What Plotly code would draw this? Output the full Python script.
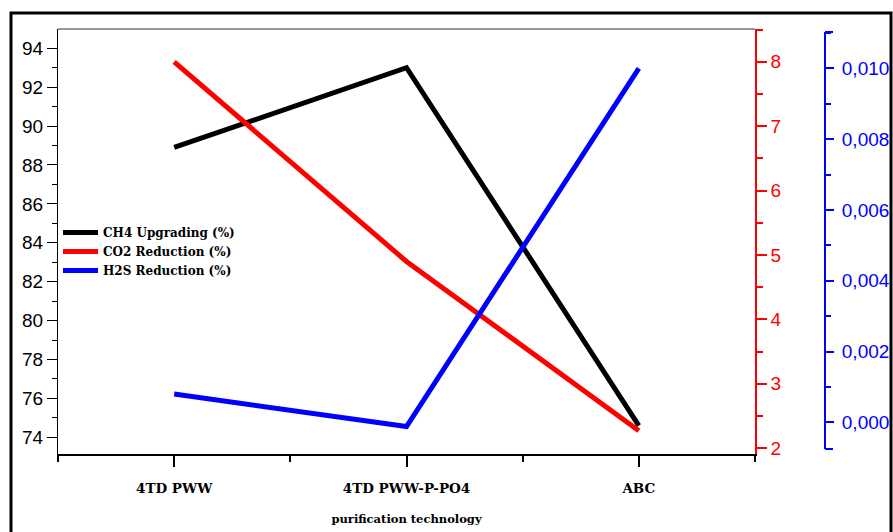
import plotly.graph_objects as go

categories = ["4TD PWW", "4TD PWW-P-PO4", "ABC"]
ch4_upgrading = [88.9, 93.0, 74.6]
co2_reduction = [8.0, 4.9, 2.27]
h2s_reduction = [0.0008, -0.00012, 0.0100]

left_ticks = [74, 76, 78, 80, 82, 84, 86, 88, 90, 92, 94]
red_ticks = [2, 3, 4, 5, 6, 7, 8]
blue_ticks = [0.000, 0.002, 0.004, 0.006, 0.008, 0.010]

xpos = list(range(len(categories)))

W, H = 893, 532
L, R, T, B = 58, 890, 29, 454   # paper area in px
XR = 755                        # right edge of the main plot area
pw, ph = R - L, B - T

def px(x):
    return (x - L) / pw

def py(y):
    return (B - y) / ph

fig = go.Figure()
fig.add_trace(go.Scatter(x=xpos, y=ch4_upgrading, name="CH4 Upgrading (%)",
                         mode="lines", line=dict(color="black", width=5), yaxis="y"))
fig.add_trace(go.Scatter(x=xpos, y=co2_reduction, name="CO2 Reduction (%)",
                         mode="lines", line=dict(color="#ff0000", width=5), yaxis="y2"))
fig.add_trace(go.Scatter(x=xpos, y=h2s_reduction, name="H2S Reduction (%)",
                         mode="lines", line=dict(color="#0000ff", width=5), yaxis="y3"))

tickfont = dict(family="Liberation Sans, Arial", size=19)
serif_bold = "DejaVu Serif"

fig.update_layout(
    width=W, height=H,
    margin=dict(l=L, r=W - R, t=T, b=H - B, autoexpand=False),
    paper_bgcolor="white", plot_bgcolor="rgba(0,0,0,0)",
    separators=",.",
    showlegend=True,
    legend=dict(x=px(58), y=py(218), xanchor="left", yanchor="top",
                bgcolor="rgba(0,0,0,0)", borderwidth=0,
                font=dict(family=serif_bold, size=12, color="black", weight="bold"),
                tracegroupgap=0, itemwidth=35),
    xaxis=dict(domain=[0, px(XR)], range=[-0.5, 2.5], tickmode="array", tickvals=xpos,
               ticktext=categories, automargin=False,
               showgrid=False, zeroline=False, showline=True, linecolor="black", linewidth=2,
               ticks="outside", ticklen=11, tickwidth=2, tickcolor="black",
               ticklabelstandoff=10,
               tickfont=dict(family=serif_bold, size=13.5, color="black", weight="bold"),
               minor=dict(ticks="outside", tick0=-0.5, dtick=0.5, ticklen=6, tickwidth=2,
                          tickcolor="black", showgrid=False),
               title=dict(text="<b>purification technology</b>", standoff=20,
                          font=dict(family=serif_bold, size=11.5, color="black"))),
    yaxis=dict(range=[73.14, 94.99], tickmode="array", tickvals=left_ticks, automargin=False,
               showgrid=False, zeroline=False, showline=True, linecolor="black", linewidth=1,
               ticks="outside", ticklen=10, tickwidth=1, tickcolor="black",
               tickfont=dict(color="black", **tickfont),
               minor=dict(ticks="outside", dtick=1, ticklen=5, tickwidth=1,
                          tickcolor="black", showgrid=False)),
    yaxis2=dict(overlaying="y", side="right", anchor="x", range=[1.91, 8.51], automargin=False,
                tickmode="array", tickvals=red_ticks,
                showgrid=False, zeroline=False, showline=True, linecolor="#ff0000", linewidth=1.5,
                ticks="outside", ticklen=10, tickwidth=1.5, tickcolor="#ff0000",
                tickfont=dict(color="#ff0000", **tickfont),
                minor=dict(ticks="outside", dtick=0.5, ticklen=6, tickwidth=1.5,
                           tickcolor="#ff0000", showgrid=False)),
    yaxis3=dict(overlaying="y", anchor="free", position=px(825), side="right",
                range=[-0.000895, 0.01111], automargin=False,
                tickmode="array", tickvals=blue_ticks, tickformat=".3f",
                showgrid=False, zeroline=False, showline=False,
                ticks="outside", ticklen=8, tickwidth=2, tickcolor="#0000ff",
                ticklabelstandoff=4,
                tickfont=dict(color="#0000ff", **tickfont),
                minor=dict(ticks="outside", dtick=0.001, tick0=0, ticklen=5, tickwidth=2,
                           tickcolor="#0000ff", showgrid=False)),
)

blue = "#0000ff"
shapes = [
    # outer frame
    dict(type="rect", xref="paper", yref="paper", x0=px(11), x1=px(891), y0=py(13), y1=py(560),
         line=dict(color="black", width=3), fillcolor="rgba(0,0,0,0)", layer="below"),
    # top border of plot
    dict(type="line", xref="paper", yref="paper", x0=0, x1=px(XR), y0=1, y1=1,
         line=dict(color="#333333", width=1)),
    # blue axis line with end caps
    dict(type="line", xref="paper", yref="paper", x0=px(825), x1=px(825), y0=py(32), y1=py(449),
         line=dict(color=blue, width=2)),
    dict(type="line", xref="paper", yref="paper", x0=px(825), x1=px(833), y0=py(32), y1=py(32),
         line=dict(color=blue, width=2)),
    dict(type="line", xref="paper", yref="paper", x0=px(825), x1=px(833), y0=py(449), y1=py(449),
         line=dict(color=blue, width=2)),
]
fig.update_layout(shapes=shapes)

fig.write_html("out.html")
